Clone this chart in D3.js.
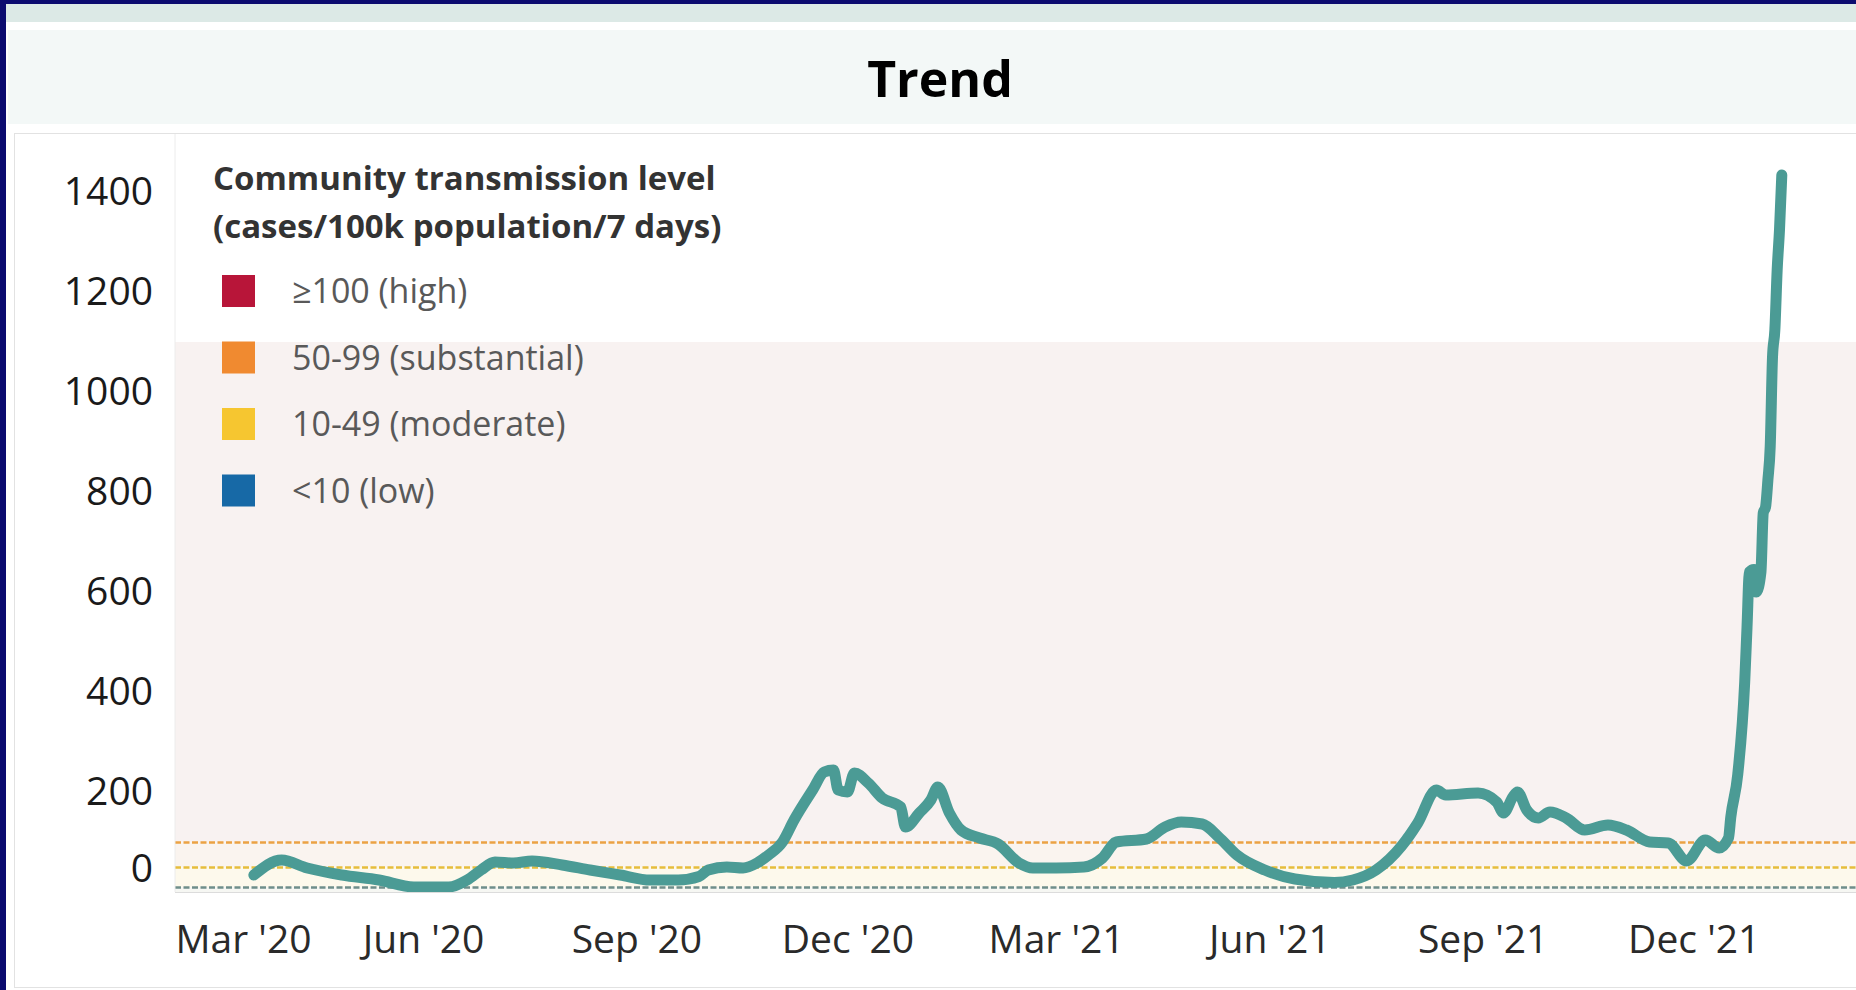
<!DOCTYPE html>
<html>
<head>
<meta charset="utf-8">
<script src="https://cdn.jsdelivr.net/npm/d3@7"></script>
<style>
    body { margin: 0; background: #0b0b6f; overflow: hidden; }
</style>
</head>
<body>
<script>
// #region DATA
var caseDates = [
    "2020-03-20", "2020-04-01", "2020-04-12", "2020-04-27", "2020-05-13", "2020-05-28",
    "2020-06-12", "2020-06-20", "2020-06-26", "2020-07-02", "2020-07-10", "2020-07-18",
    "2020-07-31", "2020-08-12", "2020-08-25", "2020-09-07", "2020-09-19", "2020-09-28",
    "2020-10-02", "2020-10-10", "2020-10-17", "2020-10-23", "2020-10-28", "2020-11-03",
    "2020-11-08", "2020-11-16", "2020-11-21", "2020-11-25", "2020-11-27", "2020-12-01",
    "2020-12-04", "2020-12-10", "2020-12-16", "2020-12-24", "2020-12-26", "2021-01-01",
    "2021-01-06", "2021-01-09", "2021-01-14", "2021-01-19", "2021-01-27", "2021-02-04",
    "2021-02-13", "2021-02-19", "2021-03-01", "2021-03-13", "2021-03-21", "2021-03-27",
    "2021-04-09", "2021-04-17", "2021-04-24", "2021-05-03", "2021-05-11", "2021-05-18",
    "2021-05-30", "2021-06-12", "2021-06-29", "2021-07-07", "2021-07-17", "2021-07-28",
    "2021-08-04", "2021-08-12", "2021-08-16", "2021-08-30", "2021-09-07", "2021-09-10",
    "2021-09-14", "2021-09-16", "2021-09-20", "2021-09-25", "2021-09-30", "2021-10-07",
    "2021-10-15", "2021-10-25", "2021-11-02", "2021-11-12", "2021-11-20", "2021-11-28",
    "2021-12-06", "2021-12-12", "2021-12-16", "2021-12-17", "2021-12-20", "2021-12-23",
    "2021-12-24", "2021-12-25", "2021-12-27", "2021-12-28", "2021-12-30", "2021-12-31",
    "2022-01-01", "2022-01-02", "2022-01-03", "2022-01-04", "2022-01-05", "2022-01-06",
    "2022-01-07", "2022-01-08"
];

var caseRates = [
    34, 64, 48, 34, 24, 10,
    10, 24, 44, 60, 58, 62,
    54, 44, 34, 24, 24, 31,
    44, 50, 48, 58, 74, 100,
    144, 204, 240, 244, 204, 200,
    238, 218, 188, 170, 130, 158,
    184, 210, 158, 124, 108, 96,
    58, 48, 48, 50, 68, 100,
    106, 130, 140, 136, 106, 74,
    44, 26, 19, 24, 44, 92,
    138, 204, 194, 198, 180, 158,
    190, 200, 164, 148, 160, 148,
    124, 134, 124, 100, 98, 62,
    104, 88, 108, 150, 235, 420,
    530, 640, 645, 600, 640, 758,
    770, 824, 891, 1071, 1124, 1244,
    1324, 1434
];

var xTickDates = ["2020-03-01", "2020-06-01", "2020-09-01", "2020-12-01",
                  "2021-03-01", "2021-06-01", "2021-09-01", "2021-12-01"];
var yTicks = [0, 200, 400, 600, 800, 1000, 1200, 1400];

var levelLabels = ["\u2265100 (high)", "50-99 (substantial)", "10-49 (moderate)", "<10 (low)"];
var bandRanges = [[100, 1100], [50, 100], [10, 50], [0, 10]];
var thresholdLines = [100, 50, 10];
// #endregion

// #region STYLE
var levelColors = ["#b81539", "#f08a30", "#f6c630", "#1769a6"];
var bandColors = ["#f8f2f1", "#faf4ef", "#fdf9ec", "#f6f7f3"];
var thresholdColors = ["#eba244", "#e6bd3c", "#6f8e8b"];
var font = "'Open Sans', 'Noto Sans', sans-serif";
// #endregion

// #region SETUP
var parseDate = d3.timeParse("%Y-%m-%d");

var series = caseDates.map(function(d, i) {
    return {date: parseDate(d), value: caseRates[i]};
});

var svg = d3.select("body")
    .append("svg")
    .attr("width", 1856)
    .attr("height", 990)
    .style("display", "block")
    .style("font-family", font);

svg.append("rect")
    .attr("width", 1856)
    .attr("height", 990)
    .attr("fill", "#0b0b6f");

svg.append("rect")
    .attr("x", 6).attr("y", 4)
    .attr("width", 1850).attr("height", 18)
    .attr("fill", "#dce9e6");

svg.append("rect")
    .attr("x", 6).attr("y", 22)
    .attr("width", 1850).attr("height", 968)
    .attr("fill", "#ffffff");

// title panel
svg.append("rect")
    .attr("x", 8).attr("y", 30)
    .attr("width", 1848).attr("height", 94)
    .attr("fill", "#f3f8f7");

svg.append("text")
    .text("Trend")
    .attr("x", 940)
    .attr("y", 97)
    .attr("text-anchor", "middle")
    .attr("font-size", "50px")
    .attr("font-weight", "bold")
    .attr("fill", "#000");

// chart panel
svg.append("rect")
    .attr("x", 14.5).attr("y", 133.5)
    .attr("width", 1860).attr("height", 854)
    .attr("fill", "#ffffff")
    .attr("stroke", "#e2e2e2");
// #endregion

// #region SCALES
var x = d3.scaleTime()
    .domain([parseDate("2020-02-15"), parseDate("2022-02-09")])
    .range([175, 1856]);

var y = d3.scaleLinear()
    .domain([0, 1400])
    .range([892, 192]);
// #endregion

// #region BANDS
var plot = svg.append("g").attr("id", "plot");

plot.selectAll("rect.band")
    .data(bandRanges)
    .enter()
    .append("rect")
        .attr("class", "band")
        .attr("x", x.range()[0])
        .attr("y", d => y(d[1]))
        .attr("width", x.range()[1] - x.range()[0])
        .attr("height", d => y(d[0]) - y(d[1]))
        .attr("fill", (d, i) => bandColors[i]);

plot.selectAll("line.threshold")
    .data(thresholdLines)
    .enter()
    .append("line")
        .attr("class", "threshold")
        .attr("x1", x.range()[0])
        .attr("x2", x.range()[1])
        .attr("y1", d => y(d) + 0.5)
        .attr("y2", d => y(d) + 0.5)
        .attr("stroke", (d, i) => thresholdColors[i])
        .attr("stroke-width", 2.5)
        .attr("stroke-dasharray", "6,2.5");

// separator of the axis column and the bottom edge
svg.append("line")
    .attr("x1", 175).attr("x2", 175)
    .attr("y1", 134).attr("y2", y(0))
    .attr("stroke", "#ececec");

svg.append("line")
    .attr("x1", 175).attr("x2", 1856)
    .attr("y1", y(0) + 0.5).attr("y2", y(0) + 0.5)
    .attr("stroke", "#dcdcdc");
// #endregion

// #region LINE
var line = d3.line()
    .x(d => x(d.date))
    .y(d => y(d.value))
    .curve(d3.curveMonotoneX);

plot.append("path")
    .datum(series)
    .attr("d", line)
    .attr("fill", "none")
    .attr("stroke", "#4b9b95")
    .attr("stroke-width", 11)
    .attr("stroke-linejoin", "round")
    .attr("stroke-linecap", "round");
// #endregion

// #region AXES
var yAxis = svg.append("g")
    .attr("transform", "translate(153,0)")
    .call(d3.axisLeft(y)
        .tickValues(yTicks)
        .tickFormat(d3.format("d"))
        .tickSize(0)
        .tickPadding(0));

yAxis.select(".domain").remove();
yAxis.selectAll("text")
    .attr("font-family", font)
    .attr("font-size", "39px")
    .attr("fill", "#1a1a1a");

// the zero label sits a little above its tick
yAxis.selectAll(".tick")
    .filter(d => d === 0)
    .select("text")
    .attr("y", -23);

var xAxis = svg.append("g")
    .attr("transform", "translate(0," + y(0) + ")")
    .call(d3.axisBottom(x)
        .tickValues(xTickDates.map(parseDate))
        .tickFormat(d3.timeFormat("%b '%y"))
        .tickSize(0)
        .tickPadding(33));

xAxis.select(".domain").remove();
xAxis.selectAll("text")
    .attr("font-family", font)
    .attr("font-size", "39px")
    .attr("fill", "#2a2a2a");

// keep the first label inside the plot
xAxis.selectAll(".tick").each(function(d) {
    var t = d3.select(this).select("text");
    var w = t.node().getComputedTextLength();
    if (x(d) - w / 2 < x.range()[0]) {
        t.attr("text-anchor", "start").attr("x", x.range()[0] - x(d));
    }
});
// #endregion

// #region LEGEND
var legend = svg.append("g").attr("id", "legend");

legend.append("text")
    .attr("x", 213)
    .attr("y", 190)
    .attr("font-size", "33px")
    .attr("font-weight", "bold")
    .attr("fill", "#333")
    .text("Community transmission level");

legend.append("text")
    .attr("x", 213)
    .attr("y", 238)
    .attr("font-size", "33px")
    .attr("font-weight", "bold")
    .attr("fill", "#333")
    .text("(cases/100k population/7 days)");

var legendItems = legend.selectAll("g.item")
    .data(levelLabels)
    .enter()
    .append("g")
        .attr("class", "item")
        .attr("transform", (d, i) => "translate(0," + (291 + i * 66.5) + ")");

legendItems.append("rect")
    .attr("x", 222)
    .attr("y", -16)
    .attr("width", 33)
    .attr("height", 32)
    .attr("fill", (d, i) => levelColors[i]);

legendItems.append("text")
    .attr("x", 292)
    .attr("y", 0)
    .attr("dy", "0.36em")
    .attr("font-size", "34px")
    .attr("fill", "#595959")
    .text(d => d);
// #endregion
</script>
</body>
</html>
